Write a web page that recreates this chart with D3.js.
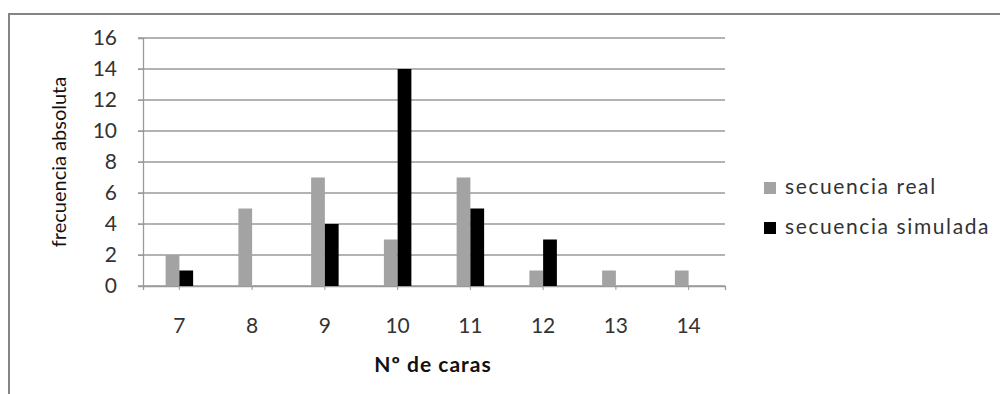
<!DOCTYPE html>
<html>
<head>
<meta charset="utf-8">
<script src="https://cdn.jsdelivr.net/npm/d3@7"></script>
<style>
  html, body { margin: 0; padding: 0; background: #fff; }
  svg { display: block; }
</style>
</head>
<body>
<svg id="chart" width="1000" height="394"></svg>
<script>
// Number of heads per sequence and how often each count occurred
const categories = ["7", "8", "9", "10", "11", "12", "13", "14"];
const realValues = [2, 5, 7, 3, 7, 1, 1, 1];
const simulatedValues = [1, 0, 4, 14, 5, 3, 0, 0];
const seriesNames = ["secuencia real", "secuencia simulada"];
const seriesColors = ["#a3a3a3", "#000000"];
const yTicks = [0, 2, 4, 6, 8, 10, 12, 14, 16];

const svg = d3.select("#chart");
const font = "Lato, 'Open Sans', sans-serif";

// Frame around the whole chart
svg.append("rect")
  .attr("x", 9).attr("y", 14)
  .attr("width", 1000).attr("height", 400)
  .attr("fill", "#fff")
  .attr("stroke", "#858585")
  .attr("stroke-width", 2);

const plot = { left: 143, right: 725, top: 38, bottom: 286 };

const x = d3.scaleBand()
  .domain(categories)
  .range([plot.left, plot.right]);

const x1 = d3.scaleBand()
  .domain(seriesNames)
  .range([0, 27.5]);

const y = d3.scaleLinear()
  .domain([0, 16])
  .range([plot.bottom, plot.top]);

// Horizontal gridlines
svg.append("g")
  .selectAll("line")
  .data(yTicks)
  .join("line")
  .attr("x1", plot.left - 5).attr("x2", plot.right)
  .attr("y1", d => y(d)).attr("y2", d => y(d))
  .attr("stroke", "#9a9a9a")
  .attr("stroke-width", 1.3);

// Y axis
const yAxis = svg.append("g")
  .attr("transform", `translate(${plot.left},0)`)
  .call(d3.axisLeft(y).tickValues(yTicks).tickSize(5).tickPadding(21));
yAxis.select(".domain").attr("stroke", "#9a9a9a").attr("stroke-width", 1.3);
yAxis.selectAll(".tick line").attr("stroke", "#9a9a9a");
yAxis.selectAll("text")
  .attr("font-family", font)
  .attr("font-size", 21)
  .attr("fill", "#333");

// X axis
const xAxis = svg.append("g")
  .attr("transform", `translate(0,${plot.bottom})`)
  .call(d3.axisBottom(x).tickSize(4).tickPadding(28));
xAxis.select(".domain").attr("stroke", "#9a9a9a").attr("stroke-width", 1.3);
xAxis.selectAll(".tick line").attr("stroke", "#9a9a9a");
xAxis.selectAll("text")
  .attr("font-family", font)
  .attr("font-size", 21)
  .attr("fill", "#333");

// Bars
const rows = categories.map((c, i) => ({
  cat: c,
  values: [
    { name: seriesNames[0], v: realValues[i] },
    { name: seriesNames[1], v: simulatedValues[i] }
  ]
}));

const groups = svg.append("g")
  .selectAll("g")
  .data(rows)
  .join("g")
  .attr("transform", d => `translate(${x(d.cat) + x.bandwidth() / 2 - 13.75},0)`);

groups.selectAll("rect")
  .data(d => d.values)
  .join("rect")
  .attr("x", d => x1(d.name))
  .attr("width", x1.bandwidth())
  .attr("y", d => y(d.v))
  .attr("height", d => y(0) - y(d.v))
  .attr("fill", (d, i) => seriesColors[i]);

// Axis titles
svg.append("text")
  .attr("x", 433).attr("y", 372)
  .attr("text-anchor", "middle")
  .attr("font-family", font)
  .attr("font-size", 21)
  .attr("letter-spacing", 1)
  .attr("font-weight", "bold")
  .attr("fill", "#111")
  .text("Nº de caras");

svg.append("text")
  .attr("transform", "translate(66,162) rotate(-90)")
  .attr("text-anchor", "middle")
  .attr("font-family", font)
  .attr("font-size", 20)
  .attr("fill", "#111")
  .text("frecuencia absoluta");

// Legend
const legend = svg.append("g")
  .selectAll("g")
  .data(seriesNames)
  .join("g")
  .attr("transform", (d, i) => `translate(764,${194 + i * 40})`);

legend.append("rect")
  .attr("x", 0).attr("y", -12)
  .attr("width", 12).attr("height", 12)
  .attr("fill", (d, i) => seriesColors[i]);

legend.append("text")
  .attr("x", 21).attr("y", 0)
  .attr("font-family", font)
  .attr("font-size", 21)
  .attr("letter-spacing", 1.6)
  .attr("fill", "#333")
  .text(d => d);
</script>
</body>
</html>
